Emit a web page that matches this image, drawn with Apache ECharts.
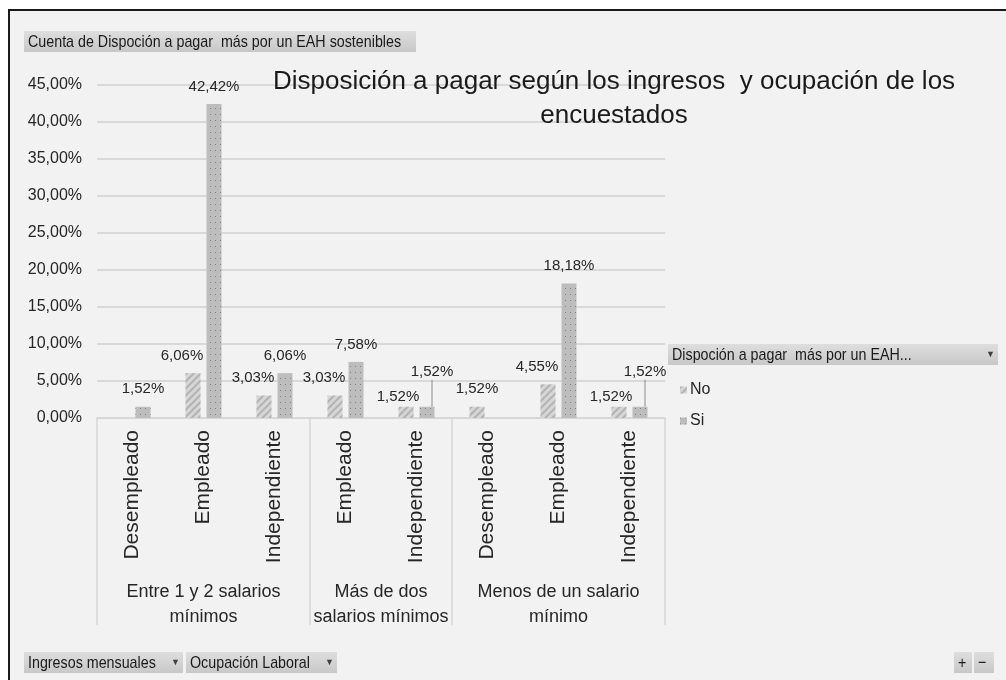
<!DOCTYPE html>
<html>
<head>
<meta charset="utf-8">
<script src="https://cdn.jsdelivr.net/npm/echarts@6/dist/echarts.min.js"></script>
<style>
  html, body { margin: 0; padding: 0; background: #fff; }
  #chart { width: 1006px; height: 680px; }
</style>
</head>
<body>
<div id="chart"></div>
<script>
// grupos de ingresos y cuantas ocupaciones tiene cada uno
const groups = ["Entre 1 y 2 salarios\nmínimos", "Más de dos\nsalarios mínimos", "Menos de un salario\nmínimo"];
const groupSizes = [3, 2, 3];
const occupations = ["Desempleado", "Empleado", "Independiente", "Empleado", "Independiente", "Desempleado", "Empleado", "Independiente"];
// porcentajes (null = sin dato)
const noValues = [null, 6.06, 3.03, 3.03, 1.52, 1.52, 4.55, 1.52];
const siValues = [1.52, 42.42, 6.06, 7.58, 1.52, null, 18.18, 1.52];
const seriesNames = ["No", "Si"];
const yMax = 45;
const yStep = 5;

const valueField = "Cuenta de Dispoción a pagar  más por un EAH sostenibles";
const legendField = "Dispoción a pagar  más por un EAH...";
const axisFields = ["Ingresos mensuales", "Ocupación Laboral"];
const titleText = "Disposición a pagar según los ingresos  y ocupación de los\nencuestados";

// limites y centros de cada grupo en unidades de categoria
const bounds = [0];
groupSizes.forEach((n) => bounds.push(bounds[bounds.length - 1] + n));
const centers = groupSizes.map((n, i) => bounds[i] + n / 2);

// etiquetas que Excel empuja hacia arriba cuando No y Si son iguales
const same = noValues.map((v, i) => v != null && v === siValues[i]);

const pct = (v) => v.toFixed(2).replace(".", ",") + "%";
const sans = "'Liberation Sans', Arial, sans-serif";

function fieldButton(x, y, w, text, arrow) {
  return {
    type: "group",
    x: x,
    y: y,
    children: [
      {
        type: "rect",
        shape: { width: w, height: 21 },
        style: {
          fill: new echarts.graphic.LinearGradient(0, 0, 0, 1, [
            { offset: 0, color: "#dedede" },
            { offset: 1, color: "#c8c8c8" },
          ]),
        },
      },
      {
        type: "text",
        x: 4,
        y: 11,
        scaleX: 0.84,
        style: { text: text, font: "17px " + sans, fill: "#1a1a1a", verticalAlign: "middle" },
      },
      arrow
        ? {
            type: "text",
            x: w - 12,
            y: 11,
            style: { text: "▼", font: "9px " + sans, fill: "#404040", verticalAlign: "middle" },
          }
        : { type: "group" },
    ],
  };
}

const chart = echarts.init(document.getElementById("chart"));

const option = {
  backgroundColor: "#ffffff",
  animation: false,
  textStyle: { fontFamily: sans },
  title: {
    text: titleText,
    left: 609,
    top: 60,
    textAlign: "center",
    textStyle: { fontSize: 26, lineHeight: 34, fontWeight: "normal", color: "#1a1a1a", fontFamily: sans },
  },
  legend: {
    orient: "vertical",
    left: 675,
    top: 376,
    icon: "rect",
    itemWidth: 7,
    itemHeight: 7,
    itemGap: 13,
    data: seriesNames,
    textStyle: { fontSize: 16, color: "#262626", lineHeight: 18, fontFamily: sans, padding: [0, 0, 0, -2] },
  },
  grid: {
    left: 97,
    right: 341,
    top: 85,
    bottom: 262,
    containLabel: false,
    outerBoundsMode: "none",
  },
  xAxis: [
    {
      type: "category",
      data: occupations,
      axisLine: { show: true, lineStyle: { color: "#d6d6d6", width: 1.5 } },
      axisTick: { show: false },
      axisLabel: {
        interval: 0,
        rotate: 90,
        margin: 12,
        fontSize: 21,
        color: "#262626",
        fontFamily: sans,
      },
    },
    {
      type: "value",
      position: "bottom",
      min: bounds[0],
      max: bounds[bounds.length - 1],
      axisLine: { show: false },
      splitLine: { show: false },
      axisTick: {
        show: true,
        customValues: bounds,
        length: 207,
        lineStyle: { color: "#d6d6d6", width: 1.5 },
      },
      axisLabel: {
        customValues: centers,
        margin: 162,
        fontSize: 18,
        lineHeight: 25,
        align: "center",
        color: "#262626",
        fontFamily: sans,
        formatter: (v) => groups[centers.indexOf(v)] || "",
      },
    },
  ],
  yAxis: {
    type: "value",
    min: 0,
    max: yMax,
    interval: yStep,
    axisLine: { show: false },
    axisTick: { show: false },
    splitLine: { lineStyle: { color: "#d9d9d9", width: 2 } },
    axisLabel: {
      margin: 15,
      fontSize: 16,
      color: "#262626",
      fontFamily: sans,
      formatter: (v) => pct(v),
    },
  },
  series: [
    {
      name: seriesNames[0],
      type: "bar",
      xAxisIndex: 0,
      data: noValues,
      barWidth: 15,
      barGap: "40%",
      itemStyle: {
        color: "#d6d6d6",
        decal: {
          symbol: "rect",
          color: "rgba(150,150,150,0.55)",
          dashArrayX: [1, 0],
          dashArrayY: [1.5, 2.5],
          rotation: -Math.PI / 4,
        },
      },
      label: {
        show: true,
        position: "top",
        distance: 10,
        fontSize: 15,
        color: "#262626",
        fontFamily: sans,
        formatter: (p) => pct(p.value),
      },
      labelLayout: (p) => {
        const i = p.dataIndex;
        if (siValues[i] == null) return {};
        if (same[i]) return { dx: -8, dy: 8 };
        return { dx: -11 };
      },
    },
    {
      name: seriesNames[1],
      type: "bar",
      xAxisIndex: 0,
      data: siValues.map((v, i) => ({ value: v, labelLine: { show: same[i] } })),
      barWidth: 15,
      barGap: "40%",
      itemStyle: {
        color: "#bdbdbd",
        decal: {
          symbol: "rect",
          symbolSize: 1,
          color: "#808080",
          dashArrayX: [1, 4],
          dashArrayY: [1, 5],
        },
      },
      label: {
        show: true,
        position: "top",
        distance: 10,
        fontSize: 15,
        color: "#262626",
        fontFamily: sans,
        formatter: (p) => pct(p.value),
      },
      labelLine: { show: false, lineStyle: { color: "#8c8c8c", width: 1 } },
      labelLayout: (p) => (same[p.dataIndex] ? { dx: 5, dy: -17 } : {}),
    },
  ],
  graphic: [
    {
      type: "rect",
      z: -10,
      silent: true,
      shape: { x: 9, y: 10, width: 1000, height: 680 },
      style: { fill: "#f2f2f2" },
    },
    {
      type: "polyline",
      z: 100,
      silent: true,
      shape: { points: [[9, 682], [9, 10], [1010, 10]] },
      style: { stroke: "#1a1a1a", lineWidth: 2, fill: null },
    },
    fieldButton(24, 31, 392, valueField, false),
    fieldButton(668, 344, 330, legendField, true),
    fieldButton(24, 652, 159, axisFields[0], true),
    fieldButton(186, 652, 151, axisFields[1], true),
    fieldButton(954, 652, 18, "+", false),
    fieldButton(974, 652, 20, "−", false),
  ],
};

chart.setOption(option);
</script>
</body>
</html>
